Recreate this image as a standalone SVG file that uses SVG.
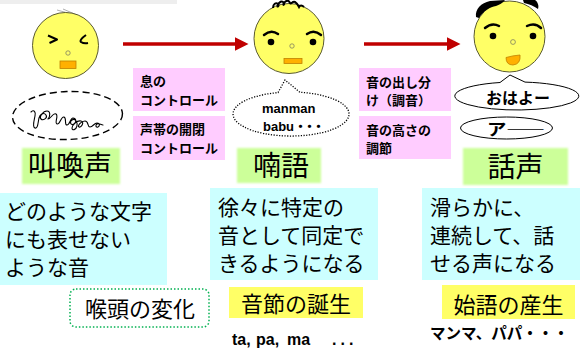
<svg xmlns="http://www.w3.org/2000/svg" width="580" height="351" viewBox="0 0 580 351">
  <defs>
    <filter id="soft" x="-10%" y="-20%" width="120%" height="140%">
      <feGaussianBlur stdDeviation="1.2"/>
    </filter>
    <marker id="head" markerWidth="4" markerHeight="4" refX="1" refY="2" orient="auto" markerUnits="strokeWidth">
      <path d="M0,0 L4,2 L0,4 Z" fill="#c00000"/>
    </marker>
  </defs>
  <style>
    .face { fill: #ffff66; stroke: #5a5a30; stroke-width: 1; }
    .nose { fill: none; stroke: #808060; stroke-width: 0.8; }
    .mouth { fill: #ffb000; stroke: #c08000; stroke-width: 0.8; }
    .brow { fill: none; stroke: #000; stroke-width: 2.5; stroke-linecap: round; }
    .pink { fill: #ffccff; }
    .green { fill: #ccff99; }
    .cyan { fill: #ccffff; }
    .yellow { fill: #ffff66; }
    .jp { font-family: "Noto Sans CJK JP", "Noto Sans", sans-serif; fill: #000; }
    .lab { font-family: "Noto Sans CJK JP", sans-serif; font-weight: bold; font-size: 13px; fill: #000; }
    .big { font-size: 28px; text-anchor: middle; }
    .desc { font-size: 21px; }
    .mid { font-size: 22px; text-anchor: middle; }
    .conn { stroke: #c00000; stroke-width: 3.5; fill: none; }
  </style>

  <!-- thin grey strip at the top edge -->
  <rect x="0" y="0" width="177" height="4" fill="#eeeeee"/>

  <!-- connectors between the three stages -->
  <g id="connectors">
    <line class="conn" x1="123" y1="44" x2="238" y2="44" marker-end="url(#head)"/>
    <line class="conn" x1="364" y1="44" x2="450" y2="44" marker-end="url(#head)"/>
  </g>

  <!-- stage 1: crying face -->
  <g id="face-cry">
    <line x1="57" y1="10" x2="75" y2="15" stroke="#999" stroke-width="0.8"/>
    <line x1="63" y1="9" x2="77" y2="15" stroke="#999" stroke-width="0.8"/>
    <circle class="face" cx="65.5" cy="45.5" r="33"/>
    <path d="M48,35.5 L57,39.5 L49.5,43" fill="none" stroke="#000" stroke-width="2" stroke-linejoin="round"/>
    <path d="M86,35 Q79,40 81,42 Q84,44 88,43" fill="none" stroke="#000" stroke-width="2"/>
    <circle class="nose" cx="68" cy="53" r="2.2"/>
    <rect class="mouth" x="60" y="61" width="16" height="7.5"/>
  </g>

  <!-- cry sound scribble -->
  <g id="cry-bubble">
    <ellipse cx="67.5" cy="115.5" rx="55" ry="24" fill="none" stroke="#000" stroke-width="1.4" stroke-dasharray="7 4" transform="rotate(-2 67.5 115.5)"/>
    <path d="M31,112 c3,-3 5,0 4,4 c-1,5 -3,11 0,12 c3,1 3,-6 4,-10 c1,-4 5,-6 7,-3 c2,3 -3,6 -5,4 c-2,-2 2,-8 6,-8 c4,0 3,6 1,8 c3,0 5,-7 8,-5 c3,2 -2,9 1,10 c3,1 4,-8 7,-7 c3,1 0,8 3,8 c3,0 3,-7 6,-7 c3,0 4,4 1,6 c-3,2 -5,-2 -2,-4 c3,-2 6,2 5,6 c-1,4 -5,5 -5,2 c0,-3 5,-8 9,-7 c4,1 0,7 -2,6 c-2,-1 2,-6 6,-6 c4,0 2,6 5,6 c3,0 4,-4 7,-4 c3,0 3,3 1,4 c-2,1 -3,-2 -1,-3 c2,-1 4,1 6,1"
          fill="none" stroke="#000" stroke-width="1.1" stroke-linejoin="round" stroke-linecap="round"/>
  </g>

  <g id="label-cry">
    <rect class="green" x="22" y="148" width="98" height="36" filter="url(#soft)"/>
    <text class="jp big" x="70" y="176">叫喚声</text>
  </g>

  <g id="desc-cry">
    <rect class="cyan" x="0" y="193" width="167" height="92"/>
    <text class="jp desc" x="5" y="219">どのような文字</text>
    <text class="jp desc" x="5" y="247">にも表せない</text>
    <text class="jp desc" x="5" y="275">ような音</text>
  </g>

  <g id="larynx">
    <rect x="70" y="289" width="139" height="38" rx="6" fill="#fff" stroke="#00b050" stroke-width="1.5" stroke-dasharray="1.5 2"/>
    <text class="jp mid" x="140" y="317">喉頭の変化</text>
  </g>

  <!-- controls between stage 1 and 2 -->
  <g id="breath-control">
    <rect class="pink" x="133" y="68" width="92" height="43"/>
    <text class="lab" x="140" y="86">息の</text>
    <text class="lab" x="140" y="105">コントロール</text>
  </g>
  <g id="vocal-fold-control">
    <rect class="pink" x="133" y="116" width="92" height="44"/>
    <text class="lab" x="140" y="134">声帯の開閉</text>
    <text class="lab" x="140" y="153">コントロール</text>
  </g>

  <!-- stage 2: babbling face -->
  <g id="face-babble">
    <circle class="face" cx="289" cy="38.5" r="35"/>
    <path d="M273,8 c0,-4 3,-6 5,-4 c2,2 -2,4 0,1 c1,-3 4,-5 6,-2 c1,2 -2,3 0,0 c2,-3 5,-3 6,0 c1,2 2,-2 5,-1 c2,1 3,3 4,5 c1,-2 3,-2 5,0"
          fill="none" stroke="#000" stroke-width="2"/>
    <path class="brow" d="M264,35 Q271,29 278,34"/>
    <path class="brow" d="M307,34 Q314,29 321,35"/>
    <circle cx="271" cy="42" r="3.3"/>
    <circle cx="313" cy="42" r="3.3"/>
    <circle class="nose" cx="292" cy="46" r="2.2"/>
    <rect class="mouth" x="284" y="58.5" width="18" height="5"/>
  </g>

  <g id="babble-bubble">
    <path d="M278,92.6 L285,80 L300,92.3 A58,22 0 1,1 278,92.6 Z" fill="#fff" stroke="#000" stroke-width="1.3" stroke-dasharray="1.2 1.5"/>
    <text x="262" y="113" font-family="Liberation Sans, Arial, sans-serif" font-weight="bold" font-size="13">manman</text>
    <text x="263" y="131" font-family="Liberation Sans, 'Noto Sans CJK JP', sans-serif" font-weight="bold" font-size="13">babu<tspan letter-spacing="-4">・・・</tspan></text>
  </g>

  <g id="label-babble">
    <rect class="green" x="237" y="148" width="84" height="35" filter="url(#soft)"/>
    <text class="jp big" x="281" y="176">喃語</text>
  </g>

  <g id="desc-babble">
    <rect class="cyan" x="210" y="188" width="168" height="92"/>
    <text class="jp desc" x="218" y="215">徐々に特定の</text>
    <text class="jp desc" x="218" y="243">音として同定で</text>
    <text class="jp desc" x="218" y="271">きるようになる</text>
  </g>

  <g id="syllable">
    <rect class="yellow" x="229" y="287" width="134" height="31"/>
    <text class="jp mid" x="296" y="312">音節の誕生</text>
    <text y="345" font-family="Liberation Sans, Arial, sans-serif" font-weight="bold" font-size="16"><tspan x="232">ta,</tspan><tspan x="256">pa,</tspan><tspan x="287">ma</tspan><tspan x="332" letter-spacing="4">...</tspan></text>
  </g>

  <!-- controls between stage 2 and 3 -->
  <g id="articulation">
    <rect class="pink" x="359" y="68" width="92" height="43"/>
    <text class="lab" x="366" y="87">音の出し分</text>
    <text class="lab" x="366" y="105">け（調音）</text>
  </g>
  <g id="pitch-control">
    <rect class="pink" x="359" y="116" width="92" height="43"/>
    <text class="lab" x="366" y="135">音の高さの</text>
    <text class="lab" x="366" y="153">調節</text>
  </g>

  <!-- stage 3: speaking face -->
  <g id="face-speech">
    <circle class="face" cx="509.5" cy="36.5" r="35.5"/>
    <path d="M476,17 C475,9 481,3 490,1 L505,0 C503,3 499,5 496,6 C490,7 484,10 479,18 Z" fill="#000"/>
    <path d="M523,0 L535,0 C538,2 539,6 538,9 C534,6 529,4 524,3 Z" fill="#000"/>
    <path class="brow" d="M485,28 Q492,22 499,26"/>
    <path class="brow" d="M527,26 Q535,22 541,28"/>
    <circle cx="493" cy="36" r="3.3"/>
    <circle cx="533" cy="36" r="3.3"/>
    <circle class="nose" cx="513" cy="42" r="2.4"/>
    <path class="mouth" d="M506,57.5 Q513,55.5 520,55 Q521,64 513,65 Q506,65 506,57.5 Z"/>
  </g>

  <g id="speech-bubble">
    <path d="M500,82.5 L510,75 L525,82.1 A62,14 0 1,1 500,82.5 Z" fill="#fff" stroke="#000" stroke-width="1"/>
    <text x="518" y="104" text-anchor="middle" font-family="Noto Sans CJK JP, sans-serif" font-weight="bold" font-size="16">おはよー</text>
  </g>
  <g id="vowel-bubble">
    <ellipse cx="506.5" cy="128" rx="46" ry="11" fill="#fff" stroke="#000" stroke-width="1"/>
    <text x="487" y="135" font-family="Noto Sans CJK JP, sans-serif" font-weight="bold" font-size="16" textLength="58" lengthAdjust="spacingAndGlyphs">ア――</text>
  </g>

  <g id="label-speech">
    <rect class="green" x="463" y="148" width="105" height="37" filter="url(#soft)"/>
    <text class="jp big" x="515.5" y="177">話声</text>
  </g>

  <g id="desc-speech">
    <rect class="cyan" x="422" y="188" width="158" height="92"/>
    <text class="jp desc" x="430" y="215">滑らかに、</text>
    <text class="jp desc" x="430" y="243">連続して、話</text>
    <text class="jp desc" x="430" y="271">せる声になる</text>
  </g>

  <g id="first-words">
    <rect class="yellow" x="442" y="285" width="133" height="34"/>
    <text class="jp mid" x="508.5" y="313">始語の産生</text>
    <text x="430" y="339" font-family="Noto Sans CJK JP, sans-serif" font-weight="bold" font-size="15.5">マンマ、パパ・・・</text>
  </g>
</svg>
